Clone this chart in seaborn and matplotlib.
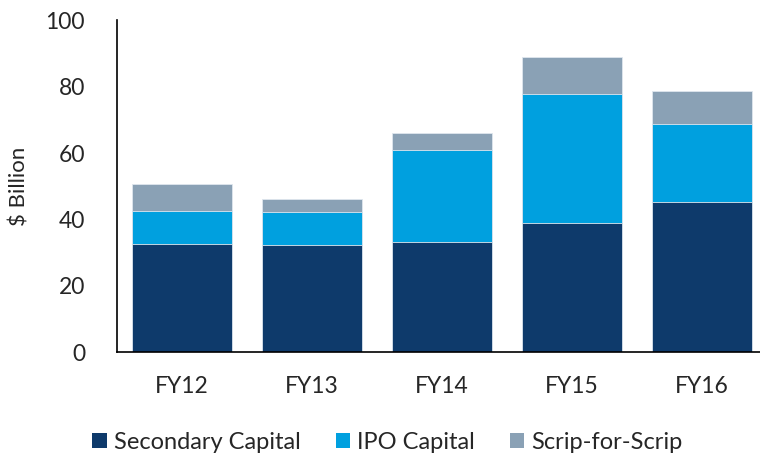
import numpy as np
import pandas as pd
import seaborn as sns
import matplotlib.pyplot as plt
from matplotlib.patches import Patch

years = ["FY12", "FY13", "FY14", "FY15", "FY16"]
secondary = [32.6, 32.4, 33.3, 38.8, 45.3]
ipo = [10.0, 9.9, 27.6, 38.9, 23.5]
scrip = [8.0, 4.0, 5.1, 11.1, 9.8]

series_names = ["Secondary Capital", "IPO Capital", "Scrip-for-Scrip"]
colors = ["#0E3A6B", "#00A0DF", "#8AA1B5"]

df = pd.DataFrame({"year": years, "Secondary Capital": secondary,
                   "IPO Capital": ipo, "Scrip-for-Scrip": scrip})
df["c1"] = df["Secondary Capital"]
df["c2"] = df["c1"] + df["IPO Capital"]
df["c3"] = df["c2"] + df["Scrip-for-Scrip"]

sns.set_style("white")
plt.rcParams["font.family"] = ["Lato", "DejaVu Sans"]

fig = plt.figure(figsize=(7.6, 4.55), dpi=100)
ax = fig.add_axes([0.154, 0.2253, 0.855, 0.7307])

# draw cumulative totals from the top down so each segment shows
for col, color in zip(["c3", "c2", "c1"], colors[::-1]):
    sns.barplot(data=df, x="year", y=col, color=color, width=0.77,
                edgecolor="#dfe6ee", linewidth=0.6, saturation=1, ax=ax)

ax.set_ylim(0, 100)
ax.set_xlim(-0.5, 4.5)
ax.set_yticks([0, 20, 40, 60, 80, 100])
ax.set_xlabel("")
ax.set_ylabel("$ Billion", fontsize=16)
ax.tick_params(axis="both", length=0, labelsize=16.5)
ax.tick_params(axis="x", pad=17)
ax.tick_params(axis="y", pad=23)
ax.yaxis.set_label_coords(-0.135, 0.5)
for s in ["top", "right"]:
    ax.spines[s].set_visible(False)
for s in ["left", "bottom"]:
    ax.spines[s].set_color("black")
    ax.spines[s].set_linewidth(1.2)

handles = [Patch(facecolor=c, edgecolor="none") for c in colors]
fig.legend(handles, series_names, loc="center", bbox_to_anchor=(0.51, 0.027),
           ncol=3, frameon=False, fontsize=17, handlelength=0.6,
           handleheight=0.6, handletextpad=0.3, columnspacing=1.5)

fig.savefig("out.png", dpi=100)
